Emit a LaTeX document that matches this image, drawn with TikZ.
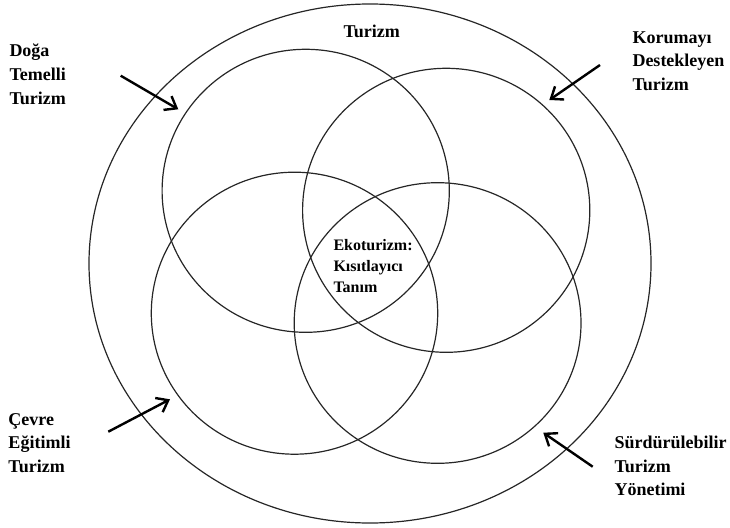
\documentclass[tikz,border=0pt]{standalone}
\usepackage{fontspec}
\setmainfont{Liberation Serif}
\usetikzlibrary{arrows.meta}
\tikzset{
  ring/.style={draw=black!85, line width=1.2pt},
  lbl/.style={anchor=base west, inner sep=0pt, font=\fontsize{18}{22}\selectfont\bfseries},
  clbl/.style={anchor=base west, inner sep=0pt, font=\fontsize{16}{20}\selectfont\bfseries},
  pointer/.style={line width=2.4pt, -{Straight Barb[length=10.5pt,width=16pt,line width=2.4pt]}}
}
\begin{document}
\begin{tikzpicture}[x=1pt,y=-1pt]
\useasboundingbox (0,0) rectangle (730,527);
% outer ellipse
\draw[ring] (370,263.5) ellipse [x radius=281, y radius=259.5];
% four circles
\draw[ring] (305.7,190.8) ellipse [x radius=143.6, y radius=141.5];
\draw[ring] (446.2,210.3) ellipse [x radius=143.6, y radius=142];
\draw[ring] (294.5,313.2) ellipse [x radius=143.2, y radius=141];
\draw[ring] (437.6,323) ellipse [x radius=143.4, y radius=140.3];
% labels
\node[lbl] (t0) at (343.3,37.3) {Turizm};
\node[lbl] (d1) at (9.3,56.7) {Doğa};
\node[lbl] (d2) at (9.3,80.5) {Temelli};
\node[lbl] (d3) at (9.3,104) {Turizm};
\node[lbl] (k1) at (632.3,43.3) {Korumayı};
\node[lbl] (k2) at (632.3,66.7) {Destekleyen};
\node[lbl] (k3) at (632.3,90) {Turizm};
\node[lbl] (c1) at (8.3,425.7) {Çevre};
\node[lbl] (c2) at (8.3,448.3) {Eğitimli};
\node[lbl] (c3) at (8.3,472.3) {Turizm};
\node[lbl] (s1) at (614.3,448.3) {Sürdürülebilir};
\node[lbl] (s2) at (614.3,472.7) {Turizm};
\node[lbl] (s3) at (614.3,495) {Yönetimi};
\node[clbl] (e1) at (333.3,250) {Ekoturizm:};
\node[clbl] (e2) at (333.3,271.7) {Kısıtlayıcı};
\node[clbl] (e3) at (333.3,292.7) {Tanım};
% arrows
\coordinate (da) at (120.7,75.7);  \coordinate (db) at (178.3,109.3);
\coordinate (ka) at (600,65);      \coordinate (kb) at (549.3,100);
\coordinate (ca) at (108.3,431.7); \coordinate (cb) at (170,399.3);
\coordinate (sa) at (592.7,466.7); \coordinate (sb) at (543.3,432.7);
\draw[pointer] (da) -- (db);
\draw[pointer] (ka) -- (kb);
\draw[pointer] (ca) -- (cb);
\draw[pointer] (sa) -- (sb);
\end{tikzpicture}
\end{document}
